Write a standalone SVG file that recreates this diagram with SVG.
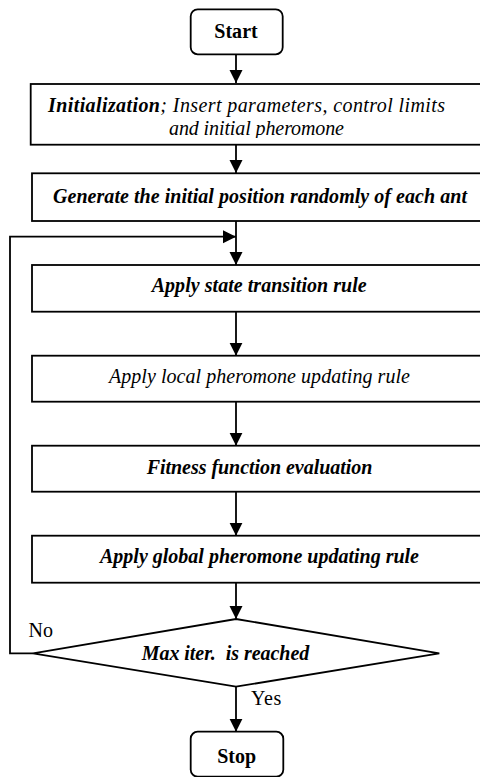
<svg xmlns="http://www.w3.org/2000/svg" width="480" height="777" viewBox="0 0 480 777">
<style>
.box{fill:#fff;stroke:#000;stroke-width:1.8}
.ln{fill:none;stroke:#000;stroke-width:1.8}
.t{font-family:'Liberation Serif','Times New Roman',serif;fill:#000;font-size:20px}
.bi{font-weight:bold;font-style:italic}
.i{font-style:italic}
.b{font-weight:bold}
</style>
<defs>
<marker id="ah" markerWidth="14" markerHeight="14" refX="13" refY="6.5" orient="auto" markerUnits="userSpaceOnUse">
<path d="M0,0 L13,6.5 L0,13 Z" fill="#000"/>
</marker>
<clipPath id="c1"><rect x="30" y="84" width="460" height="54"/></clipPath>
</defs>
<rect width="480" height="777" fill="#fff"/>
<g id="connectors">
<line class="ln" x1="236" y1="54.3" x2="236" y2="83" marker-end="url(#ah)"/>
<line class="ln" x1="236" y1="144.7" x2="236" y2="173" marker-end="url(#ah)"/>
<line class="ln" x1="236" y1="221" x2="236" y2="265" marker-end="url(#ah)"/>
<polyline class="ln" points="33,653.3 10,653.3 10,236.7 236,236.7" marker-end="url(#ah)"/>
<line class="ln" x1="236" y1="311.7" x2="236" y2="355.7" marker-end="url(#ah)"/>
<line class="ln" x1="236" y1="401.7" x2="236" y2="445.7" marker-end="url(#ah)"/>
<line class="ln" x1="236" y1="491.7" x2="236" y2="535.7" marker-end="url(#ah)"/>
<line class="ln" x1="236" y1="582.7" x2="236" y2="619" marker-end="url(#ah)"/>
<line class="ln" x1="236" y1="686.7" x2="236" y2="731.7" marker-end="url(#ah)"/>
<text class="t" x="28.5" y="636.7" textLength="24.4">No</text>
<text class="t" x="251" y="705" textLength="30.3">Yes</text>
</g>
<g id="start">
<rect class="box" x="190.7" y="9.3" width="92" height="45" rx="7"/>
<text class="t b" x="214.3" y="38" textLength="43.4">Start</text>
</g>
<g id="init">
<rect class="box" x="30.7" y="84" width="460" height="60.7"/>
<g clip-path="url(#c1)">
<text class="t i" x="48" y="111.7" textLength="397"><tspan font-weight="bold">Initialization</tspan>; Insert parameters, control limits</text>
<text class="t i" x="169" y="135" textLength="175">and initial pheromone</text>
</g>
</g>
<g id="generate">
<rect class="box" x="32" y="173.3" width="460" height="47.7"/>
<text class="t bi" x="53" y="202.7" textLength="414">Generate the initial position randomly of each ant</text>
</g>
<g id="state">
<rect class="box" x="32" y="265" width="460" height="46.7"/>
<text class="t bi" x="151.7" y="291.7" textLength="215">Apply state transition rule</text>
</g>
<g id="local">
<rect class="box" x="32" y="355.7" width="460" height="46"/>
<text class="t i" x="109" y="383.3" textLength="301">Apply local pheromone updating rule</text>
</g>
<g id="fitness">
<rect class="box" x="32" y="445.7" width="460" height="46"/>
<text class="t bi" x="146.7" y="474.3" textLength="225.6">Fitness function evaluation</text>
</g>
<g id="global">
<rect class="box" x="32" y="535.7" width="460" height="47"/>
<text class="t bi" x="100" y="563.3" textLength="319">Apply global pheromone updating rule</text>
</g>
<g id="decision">
<polygon class="box" points="236,619 439.3,653.3 236,686.7 33,653.3"/>
<text class="t bi" x="141.7" y="660" textLength="167.6" xml:space="preserve">Max iter.  is reached</text>
</g>
<g id="stop">
<rect class="box" x="190.7" y="731.7" width="92.6" height="45" rx="7"/>
<text class="t b" x="217.3" y="762.7" textLength="38.7">Stop</text>
</g>
</svg>
